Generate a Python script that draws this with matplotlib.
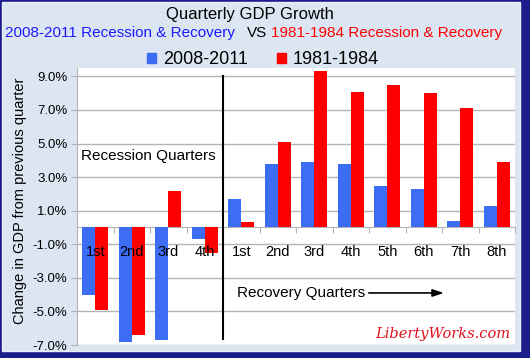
import matplotlib
matplotlib.use("Agg")
import matplotlib.pyplot as plt
from matplotlib.patches import Rectangle

plt.rcParams['font.family'] = ['Liberation Sans', 'DejaVu Sans']

quarters = ['1st', '2nd', '3rd', '4th', '1st', '2nd', '3rd', '4th',
            '5th', '6th', '7th', '8th']
growth_2008 = [-4.0, -6.8, -6.7, -0.7, 1.7, 3.8, 3.9, 3.8, 2.5, 2.3, 0.4, 1.3]
growth_1981 = [-4.9, -6.4, 2.2, -1.5, 0.3, 5.1, 9.3, 8.1, 8.5, 8.0, 7.1, 3.9]
y_ticks = [-7, -5, -3, -1, 1, 3, 5, 7, 9]

BLUE = '#3d6cf5'
RED = '#ff0000'
NAVY = '#1c1c8a'
BG = '#dce6f2'

W, H = 530, 358
fig = plt.figure(figsize=(W / 100, H / 100), dpi=100)
fig.patch.set_facecolor(NAVY)

# light panel with navy frame (shadow on the right/bottom)
fig.patches.append(Rectangle((2 / W, 7 / H), 518 / W, 349 / H,
                             transform=fig.transFigure, facecolor=BG,
                             edgecolor='#e8eef6', lw=1, zorder=-5))

ax = fig.add_axes([77 / W, 13 / H, 438 / W, 277 / H])
ax.set_facecolor('white')

x = list(range(len(quarters)))
bw = 0.36
ax.bar([i - bw / 2 for i in x], growth_2008, bw, color=BLUE, zorder=3)
ax.bar([i + bw / 2 for i in x], growth_1981, bw, color=RED, zorder=3)

ax.set_xlim(-0.5, len(quarters) - 0.5)
ax.set_ylim(-7, 9.5)
ax.set_yticks(y_ticks)
ax.set_yticklabels([f'{v:.1f}%' for v in y_ticks], fontsize=9.5)
ax.yaxis.grid(True, color='#b4b4b4', lw=1, zorder=0)
ax.tick_params(axis='y', length=4, color='#b4b4b4', pad=3)

# category axis crosses at zero
ax.spines['bottom'].set_position(('data', 0))
ax.spines['bottom'].set_color('#b4b4b4')
ax.spines['left'].set_color('#b4b4b4')
ax.spines['top'].set_visible(False)
ax.spines['right'].set_visible(False)
ax.set_xticks([i + 0.5 for i in x])
ax.set_xticklabels([])
ax.tick_params(axis='x', length=4, color='#b4b4b4', direction='out')

for i, q in enumerate(quarters):
    ax.text(i, -1.45, q, ha='center', va='center', fontsize=10.5, zorder=4)

ax.plot([3.5, 3.5], [9.0, -6.65], color='black', lw=1.5, zorder=5)
ax.text(-0.4, 4.27, 'Recession Quarters', ha='left', va='center', fontsize=11)
ax.annotate('Recovery Quarters', xy=(9.55, -3.9), xytext=(3.87, -3.9),
            ha='left', va='center', fontsize=11,
            arrowprops=dict(arrowstyle='-|>,head_length=0.6,head_width=0.2',
                            color='black', lw=1.2, shrinkA=1, shrinkB=0))

ax.set_ylabel('Change in GDP from previous quarter', fontsize=10.5)
ax.yaxis.set_label_coords(-0.115, 0.52)

# titles
fig.text(250 / W, 1 - 14 / H, 'Quarterly GDP Growth', ha='center',
         va='center', fontsize=12)
sub_y = 1 - 33 / H
fig.text(5 / W, sub_y, '2008-2011 Recession & Recovery', color='#1a1aff',
         ha='left', va='center', fontsize=11)
fig.text(257 / W, sub_y, 'VS', color='black', ha='center', va='center',
         fontsize=11)
fig.text(502 / W, sub_y, '1981-1984 Recession & Recovery', color=RED,
         ha='right', va='center', fontsize=11)

h1 = Rectangle((0, 0), 1, 1, color=BLUE)
h2 = Rectangle((0, 0), 1, 1, color=RED)
fig.legend([h1, h2], ['2008-2011', '1981-1984'], loc='center',
           bbox_to_anchor=(263 / W, 1 - 60 / H), ncol=2, frameon=False,
           fontsize=13, handlelength=0.5, handleheight=0.5,
           handletextpad=0.4, columnspacing=1.6)

fig.text(443 / W, 1 - 334 / H, 'LibertyWorks.com', color='#e0101e',
         ha='center', va='center', fontsize=10.5, style='italic',
         family='DejaVu Serif')

fig.savefig('out.png', dpi=100, facecolor=fig.get_facecolor())
